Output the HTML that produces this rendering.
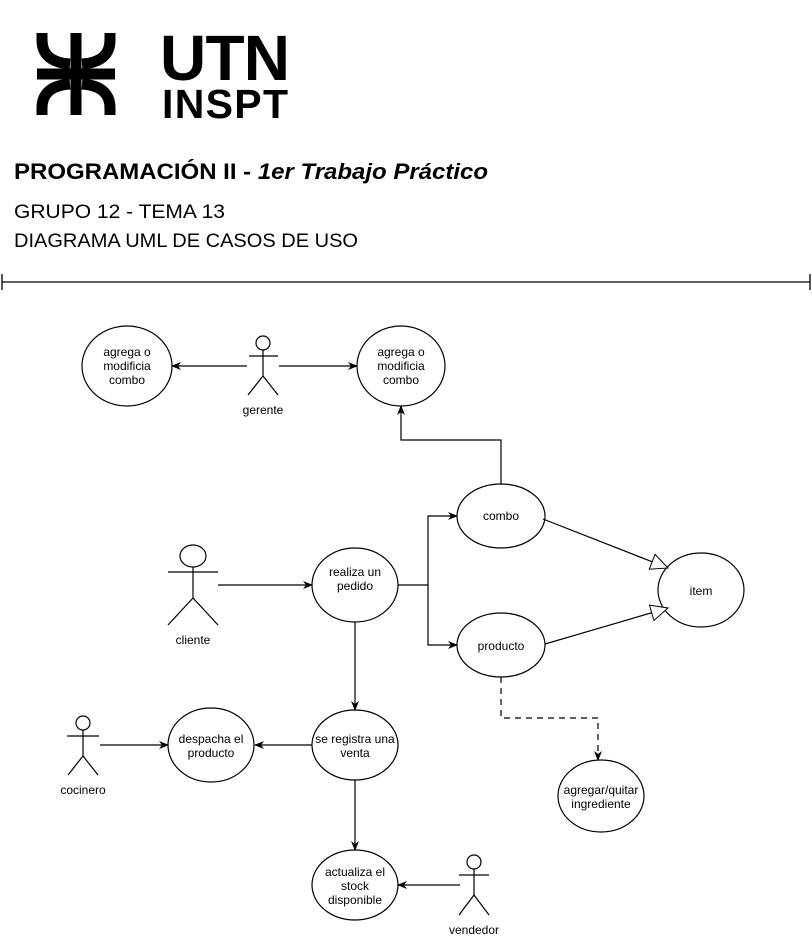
<!DOCTYPE html>
<html><head><meta charset="utf-8"><style>
body{margin:0;background:#fff;width:812px;height:936px;overflow:hidden;font-family:"Liberation Sans",sans-serif}
</style></head><body>
<svg width="812" height="936" xmlns="http://www.w3.org/2000/svg" font-family="Liberation Sans, sans-serif">
<defs>
<marker id="a" markerWidth="10" markerHeight="10" refX="9" refY="5" orient="auto" markerUnits="userSpaceOnUse"><path d="M0,1 L10,5 L0,9 L3,5 Z" fill="#000"/></marker>
<marker id="h" markerWidth="20" markerHeight="20" refX="18" refY="9" orient="auto" markerUnits="userSpaceOnUse"><path d="M1,1 L18,9 L1,17 Z" fill="#fff" stroke="#000"/></marker>
</defs>
<g stroke="#000" stroke-width="11" fill="none">
<path d="M42,33 V40 Q42,62 70,64"/>
<path d="M110,33 V40 Q110,62 82,64"/>
<path d="M42,115 V108 Q42,86 70,84"/>
<path d="M110,115 V108 Q110,86 82,84"/>
<line x1="37" y1="74" x2="115" y2="74"/>
<line x1="76" y1="33" x2="76" y2="115"/>
</g>
<text x="160" y="80" font-size="64" font-weight="bold" textLength="130">UTN</text>
<text x="162" y="118" font-size="41" font-weight="bold" textLength="126">INSPT</text>
<text x="14" y="179" font-size="22" font-weight="bold" textLength="474" lengthAdjust="spacingAndGlyphs">PROGRAMACIÓN II - <tspan font-style="italic">1er Trabajo Práctico</tspan></text>
<text x="14" y="218" font-size="19" textLength="211" lengthAdjust="spacingAndGlyphs">GRUPO 12 - TEMA 13</text>
<text x="14" y="247" font-size="19" textLength="344" lengthAdjust="spacingAndGlyphs">DIAGRAMA UML DE CASOS DE USO</text>
<g stroke="#000" stroke-width="1.3"><line x1="2" y1="282" x2="810" y2="282"/><line x1="2" y1="274" x2="2" y2="290"/><line x1="810" y1="274" x2="810" y2="290"/></g>
<g stroke="#000" stroke-width="1.2" fill="#fff">
<ellipse cx="127" cy="366" rx="45" ry="40"/>
<ellipse cx="401" cy="366" rx="44" ry="40"/>
<ellipse cx="501" cy="516" rx="44" ry="32"/>
<ellipse cx="355" cy="585" rx="43" ry="37"/>
<ellipse cx="701" cy="590" rx="43" ry="37"/>
<ellipse cx="501" cy="645" rx="44" ry="32"/>
<ellipse cx="355" cy="745" rx="43" ry="35"/>
<ellipse cx="211" cy="745" rx="43" ry="37"/>
<ellipse cx="601" cy="796" rx="43" ry="36"/>
<ellipse cx="355" cy="885" rx="43" ry="35"/>
</g>
<g fill="none" stroke="#000" stroke-width="1.2">
<circle cx="263" cy="343" r="7"/><line x1="263" y1="350" x2="263" y2="376"/><line x1="249" y1="356" x2="278" y2="356"/><path d="M248,395 L263,376 L278,395"/>
<ellipse cx="193" cy="556" rx="13" ry="11"/><line x1="193" y1="567" x2="193" y2="598"/><line x1="168" y1="572" x2="218" y2="572"/><path d="M168,625 L193,598 L218,625"/>
<circle cx="83" cy="723" r="7"/><line x1="83" y1="730" x2="83" y2="756"/><line x1="67" y1="736" x2="99" y2="736"/><path d="M68,775 L83,756 L98,775"/>
<circle cx="474" cy="862" r="7"/><line x1="474" y1="869" x2="474" y2="895"/><line x1="459" y1="875" x2="489" y2="875"/><path d="M459,915 L474,895 L489,915"/>
<line x1="247" y1="366" x2="172" y2="366" marker-end="url(#a)"/>
<line x1="279" y1="366" x2="357" y2="366" marker-end="url(#a)"/>
<path d="M501,484 V440 H401 V406" marker-end="url(#a)"/>
<line x1="218" y1="585" x2="312" y2="585" marker-end="url(#a)"/>
<path d="M398,585 H428 V516 H457" marker-end="url(#a)"/>
<path d="M428,585 V645 H457" marker-end="url(#a)"/>
<line x1="543" y1="519" x2="668" y2="568" marker-end="url(#h)"/>
<line x1="545" y1="644" x2="668" y2="608" marker-end="url(#h)"/>
<path d="M501,677 V718 H598 V760" stroke-dasharray="6,5" marker-end="url(#a)"/>
<line x1="355" y1="622" x2="355" y2="710" marker-end="url(#a)"/>
<line x1="312" y1="745" x2="255" y2="745" marker-end="url(#a)"/>
<line x1="100" y1="745" x2="168" y2="745" marker-end="url(#a)"/>
<line x1="355" y1="780" x2="355" y2="850" marker-end="url(#a)"/>
<line x1="460" y1="885" x2="398" y2="885" marker-end="url(#a)"/>
</g>
<g font-size="12" text-anchor="middle" fill="#000">
<text x="127" y="356">agrega o</text><text x="127" y="370">modificia</text><text x="127" y="384">combo</text>
<text x="401" y="356">agrega o</text><text x="401" y="370">modificia</text><text x="401" y="384">combo</text>
<text x="263" y="414">gerente</text>
<text x="501" y="520">combo</text>
<text x="355" y="576">realiza un</text><text x="355" y="590">pedido</text>
<text x="701" y="595">item</text>
<text x="501" y="650">producto</text>
<text x="193" y="644">cliente</text>
<text x="355" y="743">se registra una</text><text x="355" y="757">venta</text>
<text x="211" y="743">despacha el</text><text x="211" y="757">producto</text>
<text x="83" y="794">cocinero</text>
<text x="601" y="794">agregar/quitar</text><text x="601" y="808">ingrediente</text>
<text x="355" y="876">actualiza el</text><text x="355" y="890">stock</text><text x="355" y="904">disponible</text>
<text x="474" y="934">vendedor</text>
</g>
</svg>
</body></html>
